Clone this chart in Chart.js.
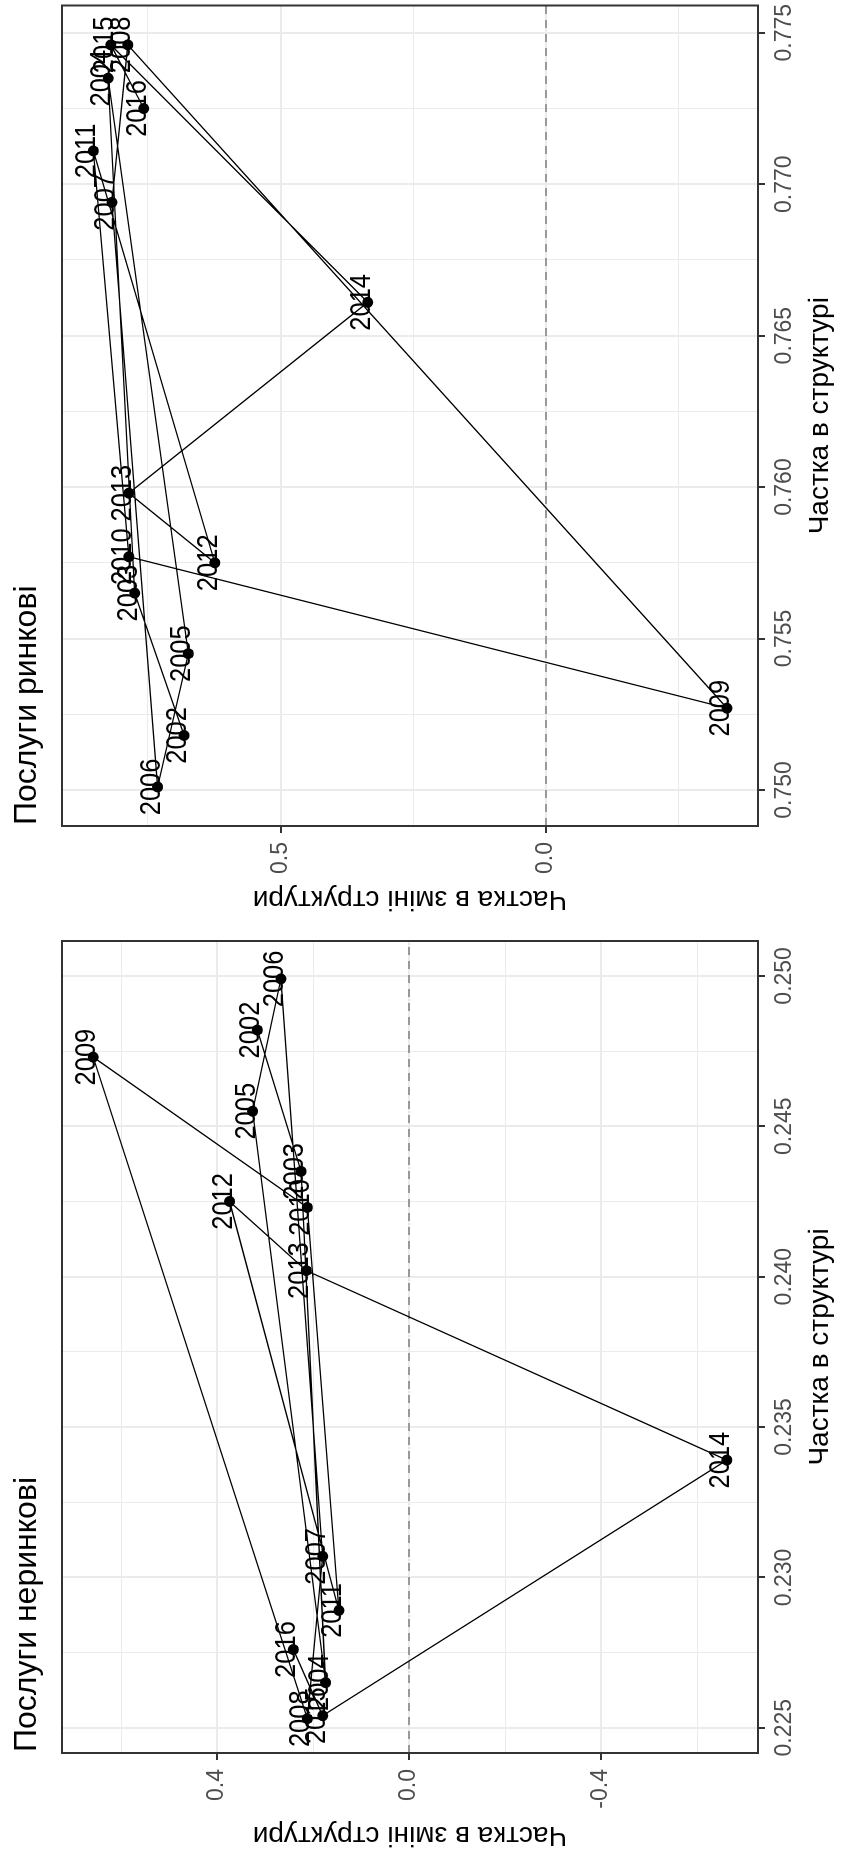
<!DOCTYPE html>
<html>
<head>
<meta charset="utf-8">
<script src="https://cdn.jsdelivr.net/npm/chart.js@4.4.1/dist/chart.umd.min.js"></script>
<style>
  html, body { margin: 0; padding: 0; background: #fff; overflow: hidden; }
  /* the picture is the landscape R plot turned a quarter turn left */
  #page {
    position: absolute; left: 0; top: 0;
    width: 1852px; height: 845px;
    transform-origin: 0 0;
    transform: translate(0px, 1852px) rotate(-90deg);
    background: #fff;
  }
  #page canvas { position: absolute; top: 0; }
</style>
</head>
<body>
<div id="page">
  <canvas id="nonMarket" width="926" height="845" style="left:0"></canvas>
  <canvas id="market" width="926" height="845" style="left:926px"></canvas>
</div>
<script>
const years = [2002, 2003, 2004, 2005, 2006, 2007, 2008, 2009, 2010, 2011, 2012, 2013, 2014, 2015, 2016];

// Послуги неринкові
const nonMarketShare  = [0.2482, 0.2435, 0.2265, 0.2455, 0.2499, 0.2307, 0.2253, 0.2473, 0.2423, 0.2289, 0.2425, 0.2402, 0.2339, 0.2254, 0.2276];
const nonMarketChange = [0.316, 0.225, 0.174, 0.326, 0.267, 0.180, 0.212, 0.658, 0.212, 0.146, 0.374, 0.214, -0.662, 0.180, 0.241];

// Послуги ринкові
const marketShare  = [0.7518, 0.7565, 0.7735, 0.7545, 0.7501, 0.7694, 0.7746, 0.7527, 0.7577, 0.7711, 0.7575, 0.7598, 0.7661, 0.7746, 0.7725];
const marketChange = [0.682, 0.775, 0.825, 0.674, 0.732, 0.818, 0.788, -0.341, 0.786, 0.853, 0.624, 0.786, 0.336, 0.820, 0.758];

// ticks
const nonMarketXMajor  = [0.225, 0.230, 0.235, 0.240, 0.245, 0.250];
const nonMarketXLabels = ['0.225', '0.230', '0.235', '0.240', '0.245', '0.250'];
const nonMarketXMinor  = [0.2275, 0.2325, 0.2375, 0.2425, 0.2475];
const nonMarketYMajor  = [-0.4, 0.0, 0.4];
const nonMarketYLabels = ['-0.4', '0.0', '0.4'];
const nonMarketYMinor  = [-0.6, -0.2, 0.2, 0.6];

const marketXMajor  = [0.750, 0.755, 0.760, 0.765, 0.770, 0.775];
const marketXLabels = ['0.750', '0.755', '0.760', '0.765', '0.770', '0.775'];
const marketXMinor  = [0.7525, 0.7575, 0.7625, 0.7675, 0.7725];
const marketYMajor  = [0.0, 0.5];
const marketYLabels = ['0.0', '0.5'];
const marketYMinor  = [-0.25, 0.25, 0.75];

const refLine = 0;
const FONT = '"Liberation Sans", Arial, sans-serif';

function isIn(list, v) {
  return list.some(m => Math.abs(m - v) < 1e-9);
}

function makeTicks(major, minor) {
  return major.concat(minor).sort((a, b) => a - b).map(v => ({ value: v }));
}

const decor = {
  id: 'decor',
  beforeDatasetsDraw(chart, args, o) {
    const { ctx, chartArea: a, scales } = chart;
    const y0 = scales.y.getPixelForValue(refLine);
    ctx.save();
    ctx.strokeStyle = '#7f7f7f';
    ctx.lineWidth = 1.5;
    ctx.setLineDash([8, 6]);
    ctx.beginPath();
    ctx.moveTo(a.left, y0);
    ctx.lineTo(a.right, y0);
    ctx.stroke();
    ctx.restore();
  },
  afterDatasetsDraw(chart, args, o) {
    const { ctx } = chart;
    const pts = chart.getDatasetMeta(0).data;
    ctx.save();
    ctx.fillStyle = '#000';
    ctx.font = '30px ' + FONT;
    ctx.textAlign = 'center';
    ctx.textBaseline = 'alphabetic';
    pts.forEach((p, i) => {
      ctx.save();
      ctx.translate(p.x, p.y + 2);
      ctx.scale(0.85, 1);
      ctx.fillText(String(years[i]), 0, 0);
      ctx.restore();
    });
    ctx.restore();
  },
  afterDraw(chart, args, o) {
    const { ctx, chartArea: a } = chart;
    ctx.save();
    ctx.strokeStyle = '#333333';
    ctx.lineWidth = 2;
    ctx.strokeRect(a.left, a.top, a.right - a.left, a.bottom - a.top);
    ctx.fillStyle = '#000';
    ctx.font = '32px ' + FONT;
    ctx.textAlign = 'left';
    ctx.textBaseline = 'alphabetic';
    ctx.fillText(o.title, a.left + 1, 36);
    ctx.restore();
  }
};

function makeChart(id, cfg) {
  const points = cfg.share.map((s, i) => ({ x: s, y: cfg.change[i] }));
  const gridOpts = (major) => ({
    color: '#ebebeb',
    lineWidth: c => (c.tick && isIn(major, c.tick.value)) ? 2 : 1,
    tickColor: c => (c.tick && isIn(major, c.tick.value)) ? '#333333' : 'rgba(0,0,0,0)',
    tickWidth: 2,
    tickLength: 7,
    drawTicks: true
  });
  return new Chart(document.getElementById(id), {
    type: 'scatter',
    data: {
      datasets: [{
        data: points,
        showLine: true,
        borderColor: '#000',
        borderWidth: 1.3,
        pointRadius: 5.5,
        pointBackgroundColor: '#000',
        pointBorderWidth: 0,
        pointHoverRadius: 5.5
      }]
    },
    plugins: [decor],
    options: {
      responsive: false,
      animation: false,
      events: [],
      layout: { padding: { top: 62, right: cfg.padRight, left: 0, bottom: 0 } },
      plugins: {
        legend: { display: false },
        tooltip: { enabled: false },
        decor: { title: cfg.title }
      },
      scales: {
        x: {
          type: 'linear',
          min: cfg.xMin, max: cfg.xMax,
          afterBuildTicks: s => { s.ticks = makeTicks(cfg.xMajor, cfg.xMinor); },
          afterFit: s => { s.height = 87; s.paddingLeft = 0; s.paddingRight = 0; },
          grid: gridOpts(cfg.xMajor),
          border: { display: false },
          ticks: {
            autoSkip: false, maxRotation: 0, minRotation: 0,
            padding: 6, color: '#4d4d4d',
            font: { family: FONT, size: 23 },
            callback: v => { const i = cfg.xMajor.findIndex(m => Math.abs(m - v) < 1e-9); return i >= 0 ? cfg.xLabels[i] : ''; }
          },
          title: {
            display: true, text: 'Частка в структурі', color: '#000',
            font: { family: FONT, size: 28 }, padding: { top: 0, bottom: 8 }
          }
        },
        y: {
          type: 'linear',
          min: cfg.yMin, max: cfg.yMax,
          afterBuildTicks: s => { s.ticks = makeTicks(cfg.yMajor, cfg.yMinor); },
          afterFit: s => { s.width = cfg.yWidth; s.paddingTop = 0; s.paddingBottom = 0; },
          grid: gridOpts(cfg.yMajor),
          border: { display: false },
          ticks: {
            autoSkip: false, padding: 9, color: '#4d4d4d',
            font: { family: FONT, size: 23 },
            callback: v => { const i = cfg.yMajor.findIndex(m => Math.abs(m - v) < 1e-9); return i >= 0 ? cfg.yLabels[i] : ''; }
          },
          title: {
            display: true, text: 'Частка в зміні структури', color: '#000',
            font: { family: FONT, size: 28 }, padding: { top: cfg.yTitlePad, bottom: 0 }
          }
        }
      }
    }
  });
}

makeChart('nonMarket', {
  title: 'Послуги неринкові',
  share: nonMarketShare, change: nonMarketChange,
  xMin: 0.22416, xMax: 0.25116, yMin: -0.727, yMax: 0.723,
  xMajor: nonMarketXMajor, xLabels: nonMarketXLabels, xMinor: nonMarketXMinor,
  yMajor: nonMarketYMajor, yLabels: nonMarketYLabels, yMinor: nonMarketYMinor,
  padRight: 15, yWidth: 99, yTitlePad: 0
});

makeChart('market', {
  title: 'Послуги ринкові',
  share: marketShare, change: marketChange,
  xMin: 0.74881, xMax: 0.7759, yMin: -0.3995, yMax: 0.912,
  xMajor: marketXMajor, xLabels: marketXLabels, xMinor: marketXMinor,
  yMajor: marketYMajor, yLabels: marketYLabels, yMinor: marketYMinor,
  padRight: 5, yWidth: 100, yTitlePad: 10
});
</script>
</body>
</html>
